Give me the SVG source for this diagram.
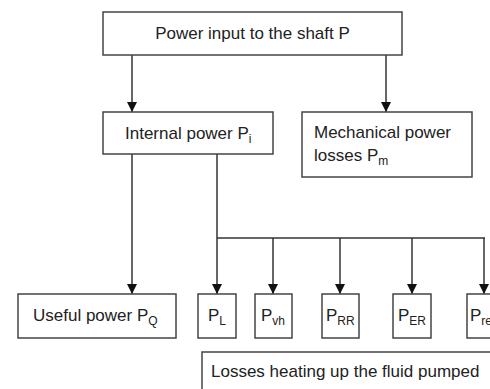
<svg xmlns="http://www.w3.org/2000/svg" width="490" height="389" viewBox="0 0 490 389">
<style>
.box{fill:#fff;stroke:#444;stroke-width:1.5}
.t{font-family:"Liberation Sans",Arial,sans-serif;font-size:17px;fill:#222}
.s{font-size:12px}
.c{fill:none;stroke:#333;stroke-width:1.5}
</style>
<defs>
<marker id="ah" viewBox="0 0 10 10" refX="10" refY="5" markerWidth="10" markerHeight="10" markerUnits="userSpaceOnUse" orient="auto">
<path d="M0,0 L10,5 L0,10 Z" fill="#111"/>
</marker>
</defs>
<rect width="490" height="389" fill="#fff"/>
<g id="connectors">
<line class="c" x1="132" y1="55" x2="132" y2="112" marker-end="url(#ah)"/>
<line class="c" x1="386" y1="55" x2="386" y2="112" marker-end="url(#ah)"/>
<line class="c" x1="132" y1="154" x2="132" y2="294" marker-end="url(#ah)"/>
<line class="c" x1="217" y1="154" x2="217" y2="294" marker-end="url(#ah)"/>
<line class="c" x1="217" y1="238" x2="485" y2="238"/>
<line class="c" x1="273" y1="238" x2="273" y2="294" marker-end="url(#ah)"/>
<line class="c" x1="340" y1="238" x2="340" y2="294" marker-end="url(#ah)"/>
<line class="c" x1="412" y1="238" x2="412" y2="294" marker-end="url(#ah)"/>
<line class="c" x1="484" y1="238" x2="484" y2="294" marker-end="url(#ah)"/>
</g>
<g id="input">
<rect class="box" x="103" y="12" width="299" height="43"/>
<text class="t" x="252.5" y="39" text-anchor="middle">Power input to the shaft P</text>
</g>
<g id="internal">
<rect class="box" x="103" y="112" width="170" height="42"/>
<text class="t" x="125" y="139">Internal power P<tspan class="s" dy="4">i</tspan></text>
</g>
<g id="mechanical">
<rect class="box" x="302" y="112" width="170" height="65"/>
<text class="t" x="314" y="138">Mechanical power</text>
<text class="t" x="314" y="161">losses P<tspan class="s" dy="4">m</tspan></text>
</g>
<g id="useful">
<rect class="box" x="18" y="294" width="158" height="44"/>
<text class="t" x="33" y="321">Useful power P<tspan class="s" dy="4">Q</tspan></text>
</g>
<g id="pl">
<rect class="box" x="198" y="294" width="38" height="44"/>
<text class="t" x="208" y="321">P<tspan class="s" dy="4">L</tspan></text>
</g>
<g id="pvh">
<rect class="box" x="255" y="294" width="37" height="44"/>
<text class="t" x="261" y="321">P<tspan class="s" dy="4">vh</tspan></text>
</g>
<g id="prr">
<rect class="box" x="322" y="294" width="37" height="44"/>
<text class="t" x="326" y="321">P<tspan class="s" dy="4">RR</tspan></text>
</g>
<g id="per">
<rect class="box" x="393" y="294" width="38" height="44"/>
<text class="t" x="398" y="321">P<tspan class="s" dy="4">ER</tspan></text>
</g>
<g id="pre">
<rect class="box" x="467" y="294" width="40" height="44"/>
<text class="t" x="470" y="321">P<tspan class="s" dy="4">re</tspan></text>
</g>
<g id="losses">
<rect class="box" x="202" y="352" width="300" height="50"/>
<text class="t" x="211" y="377">Losses heating up the fluid pumped</text>
</g>
</svg>
